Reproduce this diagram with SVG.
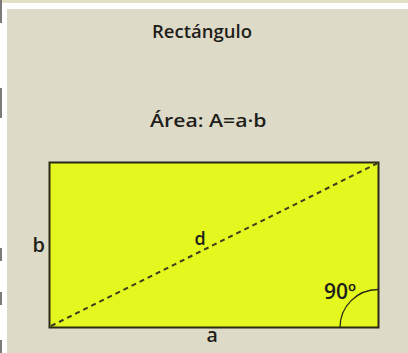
<svg xmlns="http://www.w3.org/2000/svg" width="408" height="353" viewBox="0 0 408 353">
  <style>
    text { font-family: "Open Sans", "Liberation Sans", sans-serif; font-weight: 600; fill: #1e1e1a; }
    .shape { fill: #e4f820; stroke: #2b2a14; stroke-width: 2; }
    .diag { stroke: #3d3d1c; stroke-width: 2; stroke-dasharray: 5 4; fill: none; }
    .arc { stroke: #2b2a14; stroke-width: 1.3; fill: none; }
  </style>
  <rect x="0" y="0" width="408" height="353" fill="#ffffff"/>
  <rect x="0" y="0" width="408" height="3" fill="#e3e0c4"/>
  <rect x="7" y="9" width="401" height="344" fill="#dedac8"/>
  <g fill="#7a7a78">
    <rect x="0" y="0" width="2" height="23"/>
    <rect x="0" y="88" width="2" height="30"/>
    <rect x="0" y="248" width="2" height="13"/>
    <rect x="0" y="292" width="2" height="13"/>
    <rect x="0" y="340" width="2" height="13"/>
  </g>
  <g id="title">
    <text x="202" y="38.3" font-size="18.5" text-anchor="middle">Rectángulo</text>
  </g>
  <g id="area">
    <text x="150" y="126.7" font-size="18.5" textLength="116.5" lengthAdjust="spacingAndGlyphs">Área: A=a·b</text>
  </g>
  <g id="rectangle">
    <rect class="shape" x="49.5" y="162.5" width="329" height="165"/>
  </g>
  <g id="connectors">
    <line class="diag" x1="51" y1="326" x2="377" y2="163.5"/>
    <path class="arc" d="M 340 327.5 A 38 38 0 0 1 378 289.5"/>
  </g>
  <g id="label-b">
    <text x="32.5" y="251.7" font-size="20">b</text>
  </g>
  <g id="label-d">
    <text x="194.5" y="245" font-size="18">d</text>
  </g>
  <g id="label-90">
    <text x="324" y="299" font-size="21">90º</text>
  </g>
  <g id="label-a">
    <text x="206.5" y="341.7" font-size="19.5">a</text>
  </g>
</svg>
